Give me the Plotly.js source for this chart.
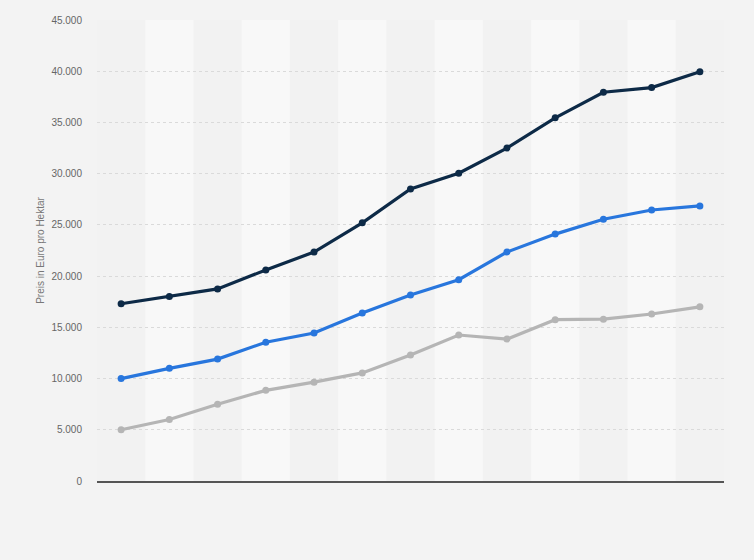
<!DOCTYPE html>
<html>
<head>
<meta charset="utf-8">
<script src="https://cdn.plot.ly/plotly-3.0.1.min.js"></script>
<style>html,body{margin:0;padding:0;background:#f3f3f3;}#chart{width:754px;height:560px;}</style>
</head>
<body>
<div id="chart"></div>
<script>
const categories = ["1","2","3","4","5","6","7","8","9","10","11","12","13"];
const seriesDark = [17300, 18000, 18750, 20600, 22350, 25200, 28500, 30050, 32500, 35450, 37950, 38400, 39950];
const seriesBlue = [10000, 11000, 11900, 13550, 14450, 16400, 18150, 19650, 22350, 24100, 25550, 26450, 26850];
const seriesGray = [5000, 6000, 7500, 8850, 9650, 10550, 12300, 14250, 13850, 15750, 15800, 16300, 17000];
const yTitle = "Preis in Euro pro Hektar";

function mk(y, color) {
  return {
    x: categories, y: y, type: 'scatter', mode: 'lines+markers',
    line: {color: color, width: 3.2},
    marker: {color: color, size: 7},
    hoverinfo: 'none', showlegend: false
  };
}

const shapes = [];
categories.forEach((c, i) => {
  if (i % 2 === 1) {
    shapes.push({type: 'rect', xref: 'x', yref: 'paper', x0: i - 0.5, x1: i + 0.5, y0: 0, y1: 1,
      fillcolor: '#f8f8f8', line: {width: 0}, layer: 'below'});
  }
});

const layout = {
  width: 754, height: 560,
  paper_bgcolor: '#f3f3f3', plot_bgcolor: '#f2f2f2',
  separators: ',.',
  margin: {l: 97, r: 30, t: 20, b: 79},
  font: {family: 'Liberation Sans, Arial, sans-serif', size: 10, color: '#666'},
  shapes: shapes,
  xaxis: {
    type: 'category', range: [-0.5, 12.5], showticklabels: false, ticks: '',
    showgrid: false, zeroline: false, showline: true, linecolor: '#555', linewidth: 1.5
  },
  yaxis: {
    range: [0, 45000], dtick: 5000, tickformat: ',d',
    showgrid: true, gridcolor: '#dadada', griddash: 'dot', gridwidth: 1,
    zeroline: false, ticks: '', ticklabelstandoff: 14,
    tickfont: {size: 10, color: '#666'},
    title: {text: yTitle, font: {size: 10, color: '#777'}, standoff: 4}
  }
};

Plotly.newPlot('chart', [mk(seriesGray, '#b5b5b5'), mk(seriesBlue, '#2876dd'), mk(seriesDark, '#0d2a47')], layout, {staticPlot: true});
</script>
</body>
</html>
